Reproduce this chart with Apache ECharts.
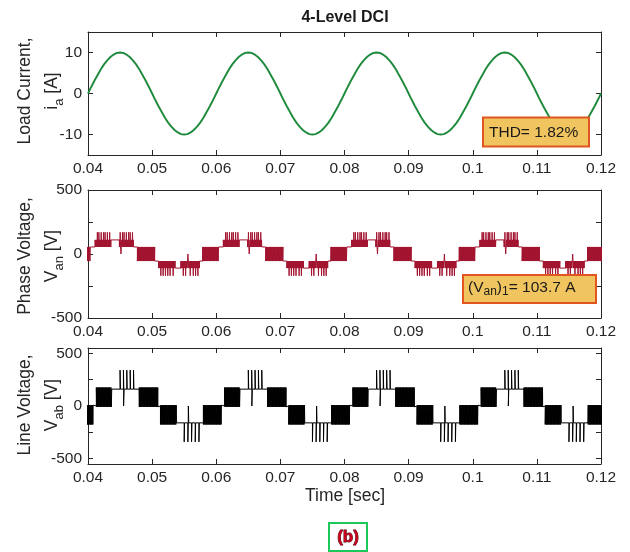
<!DOCTYPE html>
<html><head><meta charset="utf-8">
<script src="https://cdn.jsdelivr.net/npm/echarts@6/dist/echarts.min.js"></script>
<style>html,body{margin:0;padding:0;background:#fff}#c{width:630px;height:552px}</style>
</head><body><div id="c"></div>
<script>
// ---------------- data ----------------
const chartTitle = '4-Level DCI';
const xTicks = [0.04, 0.05, 0.06, 0.07, 0.08, 0.09, 0.10, 0.11, 0.12];
const timeMin = 0.04, timeMax = 0.12;

// load current i_a [A], sampled every 0.5 ms from 0.04 s
const currentStart = 0.04, currentStep = 0.0005;
const currentValues = [
 0,1.6,3.1,4.5,5.9,7.1,8.1,8.9,9.5,9.9,10,9.9,9.5,8.9,8.1,7.1,5.9,4.5,3.1,1.6,
 0,-1.6,-3.1,-4.5,-5.9,-7.1,-8.1,-8.9,-9.5,-9.9,-10,-9.9,-9.5,-8.9,-8.1,-7.1,-5.9,-4.5,-3.1,-1.6,
 0,1.6,3.1,4.5,5.9,7.1,8.1,8.9,9.5,9.9,10,9.9,9.5,8.9,8.1,7.1,5.9,4.5,3.1,1.6,
 0,-1.6,-3.1,-4.5,-5.9,-7.1,-8.1,-8.9,-9.5,-9.9,-10,-9.9,-9.5,-8.9,-8.1,-7.1,-5.9,-4.5,-3.1,-1.6,
 0,1.6,3.1,4.5,5.9,7.1,8.1,8.9,9.5,9.9,10,9.9,9.5,8.9,8.1,7.1,5.9,4.5,3.1,1.6,
 0,-1.6,-3.1,-4.5,-5.9,-7.1,-8.1,-8.9,-9.5,-9.9,-10,-9.9,-9.5,-8.9,-8.1,-7.1,-5.9,-4.5,-3.1,-1.6,
 0,1.6,3.1,4.5,5.9,7.1,8.1,8.9,9.5,9.9,10,9.9,9.5,8.9,8.1,7.1,5.9,4.5,3.1,1.6,
 0,-1.6,-3.1,-4.5,-5.9,-7.1,-8.1,-8.9,-9.5,-9.9,-10,-9.9,-9.5,-8.9,-8.1,-7.1,-5.9,-4.5,-3.1,-1.6,
 0
];

// fundamental period starts [s] (waveform segments below repeat each period)
const periodStarts = [0.02, 0.04, 0.06, 0.08, 0.10];

// phase voltage V_an segments within a period [ms]
const phaseSegStart = [0.4, 1.1, 3.6, 4.9, 7.1, 7.7, 10.4, 11.0, 13.6, 14.5, 17.4, 17.9];
const phaseSegEnd   = [1.1, 3.6, 4.9, 7.1, 7.7, 10.4, 11.0, 13.6, 14.5, 17.4, 17.9, 20.4];
const phaseBase     = [55, 55, 110, 55, 55, 55, -55, -55, -110, -55, -55, 55];
const phasePulse    = [55, 110, 110, 110, 55, -55, -55, -110, -110, -110, -55, -55];
const phaseSpike    = [0, 170, 0, 170, 0, 0, 0, -170, 0, -170, 0, 0];
const phaseSpikeN   = [0, 7, 0, 7, 0, 0, 0, 6, 0, 7, 0, 0];
const phaseSpikeFrom= [0, 1.5, 0, 5.1, 0, 0, 0, 11.4, 0, 14.9, 0, 0];
const phaseSpikeTo  = [0, 3.4, 0, 7.0, 0, 0, 0, 13.3, 0, 17.2, 0, 0];
const phaseGlitchT  = [5.25, 15.6];
const phaseGlitchV  = [0, 0];

// line voltage V_ab segments within a period [ms]
const lineSegStart = [0.8, 1.3, 3.7, 8.0, 10.9, 11.3, 13.8, 18.0];
const lineSegEnd   = [1.3, 3.7, 8.0, 10.9, 11.3, 13.8, 18.0, 20.8];
const lineBase     = [0, -8, 160, -8, 0, 8, -160, 8];
const linePulse    = [0, 175, 160, 175, 0, -175, -160, -175];
const lineSpike    = [0, 0, 340, 0, 0, 0, -340, 0];
const lineSpikeN   = [0, 0, 5, 0, 0, 0, 5, 0];
const lineSpikeFrom= [0, 0, 5.0, 0, 0, 0, 15.0, 0];
const lineSpikeTo  = [0, 0, 7.1, 0, 0, 0, 17.3, 0];
const lineGlitchT  = [5.55, 15.65];
const lineGlitchV  = [0, 0];

const currentTicks = [-10, 0, 10];
const voltTicks = [-500, -250, 0, 250, 500];
const voltLabels = [-500, 0, 500];

// ---------------- build series ----------------
const currentData = currentValues.map((v, i) => [+(currentStart + i * currentStep).toFixed(5), v]);

function buildWave(st, en, base, pulse, spike, spN, spF, spT, gT, gV, carrierMs) {
  const pts = [];
  const Tc = carrierMs / 1000;
  for (const P of periodStarts) {
    for (let i = 0; i < st.length; i++) {
      const s = P + st[i] / 1000, e = P + en[i] / 1000;
      const sp = [];
      if (spN[i] > 0) {
        const a = P + spF[i] / 1000, b = P + spT[i] / 1000;
        for (let j = 0; j < spN[i]; j++) sp.push(a + (b - a) * j / (spN[i] - 1));
      }
      const gl = [];
      gT.forEach((g, k) => { const tg = P + g / 1000; if (tg >= s && tg < e) gl.push([tg, gV[k]]); });
      if (base[i] !== pulse[i]) {
        for (let t = s; t < e - 1e-9; t += Tc) {
          let lvl = pulse[i];
          if (sp.some(x => x >= t && x < t + Tc)) lvl = spike[i];
          const g = gl.find(x => x[0] >= t && x[0] < t + Tc);
          if (g) lvl = g[1];
          const w = Math.min(Tc * 0.5, e - t);
          pts.push([t, base[i]], [t, lvl], [t + w, lvl], [t + w, base[i]]);
        }
      } else {
        pts.push([s, base[i]]);
        const ev = sp.map(x => [x, spike[i]]).concat(gl).sort((a, b) => a[0] - b[0]);
        for (const [t, l] of ev) {
          pts.push([t, base[i]], [t, l], [t + 0.00006, l], [t + 0.00006, base[i]]);
        }
        pts.push([e, base[i]]);
      }
    }
  }
  return pts;
}

const phaseData = buildWave(phaseSegStart, phaseSegEnd, phaseBase, phasePulse, phaseSpike,
  phaseSpikeN, phaseSpikeFrom, phaseSpikeTo, phaseGlitchT, phaseGlitchV, 0.12);
const lineData = buildWave(lineSegStart, lineSegEnd, lineBase, linePulse, lineSpike,
  lineSpikeN, lineSpikeFrom, lineSpikeTo, lineGlitchT, lineGlitchV, 0.12);

// ---------------- chart ----------------
const FONT = "'Liberation Sans', Arial, Helvetica, sans-serif";
const AX = '#262626';
const grids = [
  { left: 88, top: 32, width: 513, height: 123 },
  { left: 88, top: 190, width: 513, height: 128 },
  { left: 88, top: 348, width: 513, height: 116 }
];
const yRanges = [[-15, 15], [-500, 500], [-550, 550]];
const yTickVals = [currentTicks, voltTicks, voltTicks];
const yLabelVals = [currentTicks, voltLabels, voltLabels];

const xAxes = [], yAxes = [];
grids.forEach((g, gi) => {
  const base = {
    type: 'value', gridIndex: gi, min: timeMin, max: timeMax,
    axisLine: { show: true, onZero: false, lineStyle: { color: AX, width: 1 } },
    splitLine: { show: false }
  };
  xAxes.push(Object.assign({}, base, {
    position: 'bottom',
    axisTick: { show: true, inside: true, length: 5, customValues: xTicks, lineStyle: { color: AX } },
    axisLabel: { show: true, customValues: xTicks, margin: 6, color: AX, fontSize: 15.5, fontFamily: FONT,
      formatter: v => String(+(+v).toFixed(2)) }
  }));
  xAxes.push(Object.assign({}, base, {
    position: 'top',
    axisTick: { show: true, inside: true, length: 5, customValues: xTicks, lineStyle: { color: AX } },
    axisLabel: { show: false }
  }));
  const yb = {
    type: 'value', gridIndex: gi, min: yRanges[gi][0], max: yRanges[gi][1],
    axisLine: { show: true, onZero: false, lineStyle: { color: AX, width: 1 } },
    splitLine: { show: false }
  };
  yAxes.push(Object.assign({}, yb, {
    position: 'left',
    axisTick: { show: true, inside: true, length: 5, customValues: yTickVals[gi], lineStyle: { color: AX } },
    axisLabel: { show: true, customValues: yLabelVals[gi], margin: 6, color: AX, fontSize: 15.5, fontFamily: FONT }
  }));
  yAxes.push(Object.assign({}, yb, {
    position: 'right',
    axisTick: { show: true, inside: true, length: 5, customValues: yTickVals[gi], lineStyle: { color: AX } },
    axisLabel: { show: false }
  }));
});

const series = [
  { type: 'line', xAxisIndex: 0, yAxisIndex: 0, data: currentData, showSymbol: false, smooth: false,
    lineStyle: { color: '#1E8A3C', width: 1.9 }, animation: false, silent: true },
  { type: 'line', xAxisIndex: 2, yAxisIndex: 2, data: phaseData, showSymbol: false,
    lineStyle: { color: '#A2142F', width: 1 }, animation: false, silent: true },
  { type: 'line', xAxisIndex: 4, yAxisIndex: 4, data: lineData, showSymbol: false,
    lineStyle: { color: '#000000', width: 1 }, animation: false, silent: true }
];

function yTitle(cy, l1, sym, sub, unit) {
  return {
    type: 'text', x: 39, y: cy, rotation: Math.PI / 2, z: 100,
    style: {
      text: '{n|' + l1 + '}\n{n|' + sym + '}{s|' + sub + '}{n| ' + unit + '}',
      align: 'center', verticalAlign: 'middle',
      rich: {
        n: { fontSize: 17.5, fontFamily: FONT, fill: AX, lineHeight: 27 },
        s: { fontSize: 13, fontFamily: FONT, fill: AX, lineHeight: 14, verticalAlign: 'bottom' }
      }
    }
  };
}

const graphic = [
  { type: 'text', x: 345, y: 18, z: 100,
    style: { text: chartTitle, fontSize: 16, fontWeight: 'bold', fontFamily: FONT, fill: '#1a1a1a', align: 'center', verticalAlign: 'middle' } },
  yTitle(91, 'Load Current,', 'i', 'a', '[A]'),
  yTitle(256, 'Phase Voltage,', 'V', 'an', '[V]'),
  yTitle(405, 'Line Voltage,', 'V', 'ab', '[V]'),
  { type: 'text', x: 345, y: 496, z: 100,
    style: { text: 'Time [sec]', fontSize: 17.5, fontFamily: FONT, fill: AX, align: 'center', verticalAlign: 'middle' } },
  // THD annotation
  { type: 'rect', z: 100, shape: { x: 483, y: 117.5, width: 106, height: 29 },
    style: { fill: '#F0C45F', stroke: '#E0561E', lineWidth: 2 } },
  { type: 'text', x: 489, y: 132.5, z: 101,
    style: { text: 'THD= 1.82%', fontSize: 15.5, fontFamily: FONT, fill: '#1a1a1a', align: 'left', verticalAlign: 'middle' } },
  // fundamental annotation
  { type: 'rect', z: 100, shape: { x: 463, y: 275, width: 133, height: 28 },
    style: { fill: '#F0C45F', stroke: '#E0561E', lineWidth: 2 } },
  { type: 'text', x: 468, y: 288, z: 101,
    style: { text: '{n|(V}{s|an}{n|)}{s|1}{n|= 103.7 A}', align: 'left', verticalAlign: 'middle',
      rich: {
        n: { fontSize: 15.5, fontFamily: FONT, fill: '#1a1a1a', lineHeight: 20 },
        s: { fontSize: 12, fontFamily: FONT, fill: '#1a1a1a', lineHeight: 12, verticalAlign: 'bottom' }
      } } },
  // (b) label
  { type: 'rect', z: 100, shape: { x: 329, y: 523, width: 38, height: 28 },
    style: { fill: '#ffffff', stroke: '#1DC85A', lineWidth: 2 } },
  { type: 'text', x: 348, y: 537, z: 101,
    style: { text: '(b)', fontSize: 17, fontWeight: 'bold', fontFamily: FONT, fill: '#C8001E',
      stroke: '#3a0000', lineWidth: 0.8, align: 'center', verticalAlign: 'middle' } }
];

const chart = echarts.init(document.getElementById('c'), null, { renderer: 'canvas' });
chart.setOption({
  animation: false,
  backgroundColor: '#ffffff',
  grid: grids,
  xAxis: xAxes,
  yAxis: yAxes,
  series: series,
  graphic: graphic
});
</script>
</body></html>
